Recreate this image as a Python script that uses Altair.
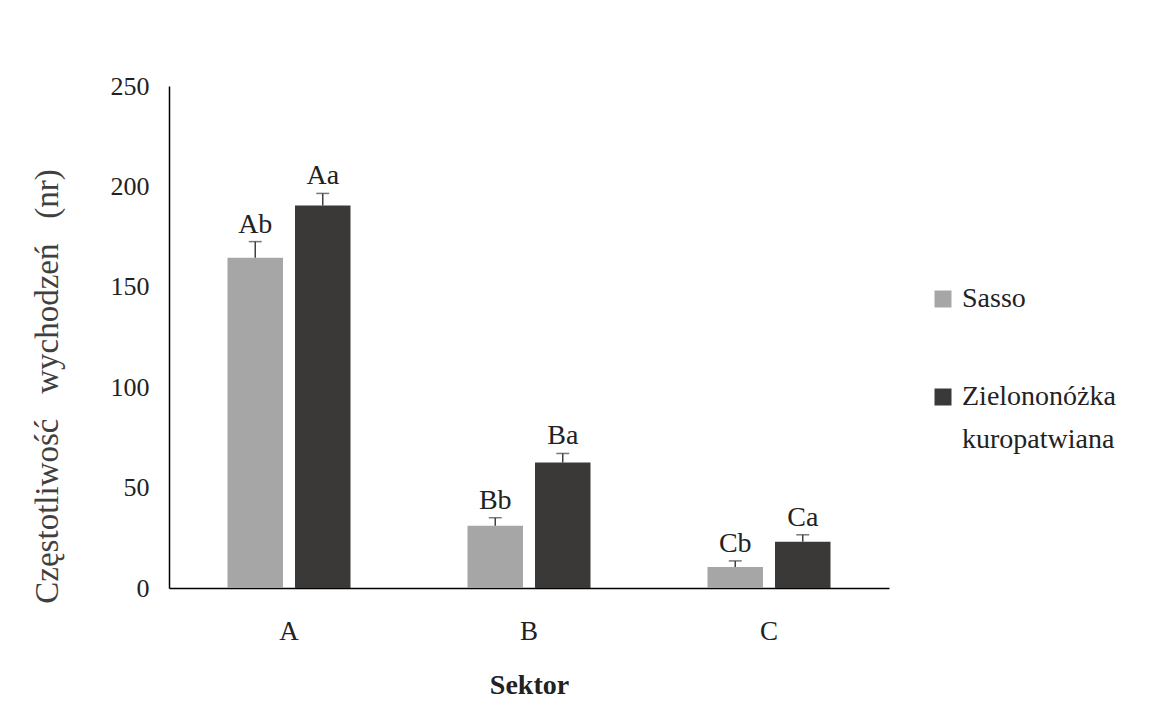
import altair as alt
import pandas as pd

sectors = ["A", "B", "C"]
breeds = ["Sasso", "Zielononóżka kuropatwiana"]
sasso_values = [164.5, 31.0, 10.5]
zk_values = [190.5, 62.5, 23.0]
sasso_err = [8.0, 4.0, 3.0]
zk_err = [6.0, 4.5, 3.5]
sasso_labels = ["Ab", "Bb", "Cb"]
zk_labels = ["Aa", "Ba", "Ca"]
y_ticks = [0, 50, 100, 150, 200, 250]
colors = ["#a6a6a6", "#3b3838"]

rows = []
for i, s in enumerate(sectors):
    rows.append({"Sektor": s, "Rasa": breeds[0], "value": sasso_values[i],
                 "upper": sasso_values[i] + sasso_err[i], "label": sasso_labels[i]})
    rows.append({"Sektor": s, "Rasa": breeds[1], "value": zk_values[i],
                 "upper": zk_values[i] + zk_err[i], "label": zk_labels[i]})
df = pd.DataFrame(rows)

FONT = "Liberation Serif"

x_enc = alt.X("Sektor:N", sort=sectors,
              scale=alt.Scale(paddingInner=0.4875, paddingOuter=0.24375),
              axis=alt.Axis(title="Sektor", labelAngle=0, ticks=False,
                            labelFont=FONT, labelFontSize=27, labelColor="#222",
                            labelPadding=30, domainColor="#000", domainWidth=1.5,
                            titleFont=FONT, titleFontSize=28, titleFontWeight="bold",
                            titleColor="#222", titlePadding=27))
xo_enc = alt.XOffset("Rasa:N", sort=breeds, scale=alt.Scale(paddingInner=0.178, paddingOuter=0))
y_scale = alt.Scale(domain=[0, 250], nice=False)

bars = alt.Chart(df).mark_bar().encode(
    x=x_enc,
    xOffset=xo_enc,
    y=alt.Y("value:Q", scale=y_scale,
            axis=alt.Axis(values=y_ticks, title="Częstotliwość\u00a0\u00a0\u00a0wychodzeń\u00a0\u00a0\u00a0(nr)",
                          grid=False, ticks=False, labelFont=FONT, labelFontSize=26,
                          labelColor="#222", labelPadding=20, domainColor="#000",
                          domainWidth=1.5, titleFont=FONT, titleFontSize=33,
                          titleFontWeight="normal", titleColor="#404040",
                          titleX=-122, titleY=300, titleAngle=-90,
                          titleAlign="center", titleBaseline="middle")),
    color=alt.Color("Rasa:N", sort=breeds, scale=alt.Scale(domain=breeds, range=colors),
                    legend=alt.Legend(title=None, orient="none", legendX=760, legendY=199,
                                      symbolType="square", symbolSize=289,
                                      symbolStrokeWidth=0, labelFont=FONT,
                                      labelFontSize=28, labelColor="#222",
                                      labelLimit=400, rowPadding=70, labelOffset=5,
                                      labelExpr="datum.label == 'Zielononóżka kuropatwiana' ? ['Zielononóżka', 'kuropatwiana'] : datum.label"))
)

rules = alt.Chart(df).mark_rule(color="#404040", strokeWidth=1.5).encode(
    x=alt.X("Sektor:N", sort=sectors),
    xOffset=alt.XOffset("Rasa:N", sort=breeds),
    y=alt.Y("value:Q"),
    y2="upper:Q",
)

caps = alt.Chart(df).mark_tick(color="#404040", thickness=1.5, size=13).encode(
    x=alt.X("Sektor:N", sort=sectors),
    xOffset=alt.XOffset("Rasa:N", sort=breeds),
    y=alt.Y("upper:Q"),
)

texts = alt.Chart(df).mark_text(font=FONT, fontSize=28, color="#222",
                                baseline="alphabetic", dy=-9).encode(
    x=alt.X("Sektor:N", sort=sectors),
    xOffset=alt.XOffset("Rasa:N", sort=breeds),
    y=alt.Y("upper:Q"),
    text="label:N",
)

chart = alt.layer(bars, rules, caps, texts).properties(
    width=720, height=502, autosize="none",
    padding={"left": 161, "top": 78, "right": 260, "bottom": 113},
    background="white",
).configure(font=FONT, style={"guide-label": {"lineHeight": 43}}).configure_view(stroke=None)

chart.save("out.html", embed_options={"renderer": "svg", "actions": False})
